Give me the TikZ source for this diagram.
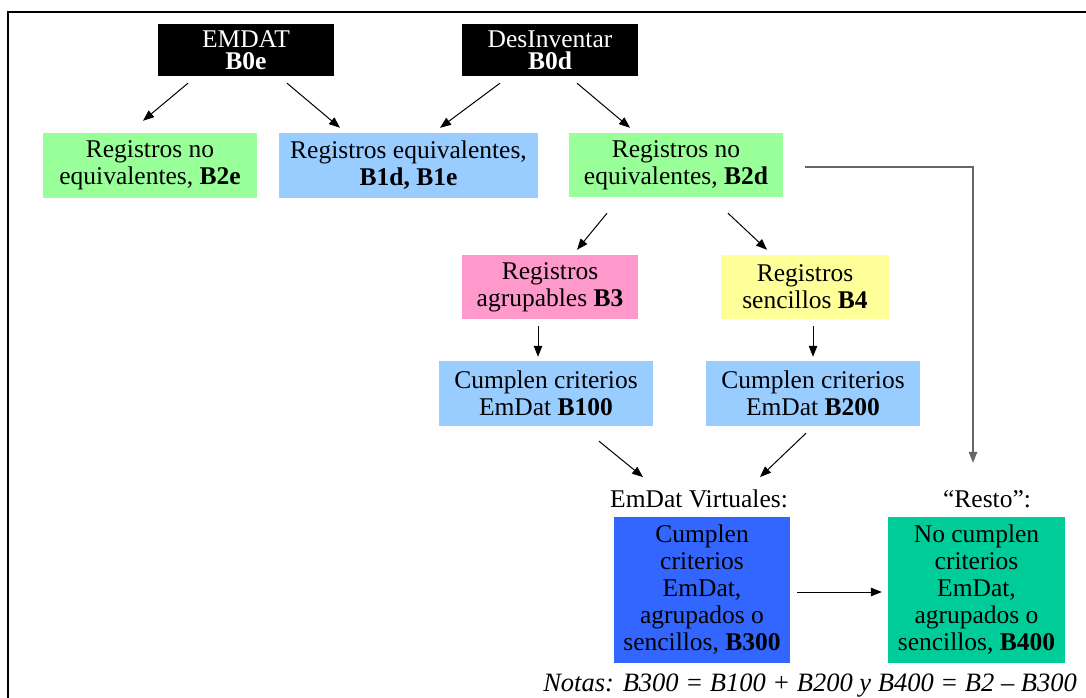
\documentclass[tikz,border=0pt]{standalone}
\usepackage{fontspec}
\setmainfont{Liberation Serif}
\usetikzlibrary{arrows.meta}
\definecolor{cgreen}{HTML}{99FF99}
\definecolor{cltblue}{HTML}{99CCFF}
\definecolor{cpink}{HTML}{FF99CC}
\definecolor{cyellow}{HTML}{FFFF99}
\definecolor{cblue}{HTML}{3366FF}
\definecolor{cteal}{HTML}{00CC99}
\definecolor{cgray}{HTML}{666666}
\begin{document}
\begin{tikzpicture}[x=1pt,y=-1pt,
  box/.style={inner sep=0pt, align=center, font=\fontsize{25.5}{27}\selectfont},
  blk/.style={box, fill=black, text=white, font=\fontsize{25.5}{22}\selectfont},
  lbl/.style={inner sep=0pt, font=\fontsize{25.5}{27}\selectfont},
  arr/.style={line width=1pt, -{Triangle[length=11pt,width=8.5pt]}},
  arrg/.style={line width=1.2pt, draw=cgray, -{Triangle[length=11pt,width=8.5pt,fill=cgray]}}]
\useasboundingbox (0,0) rectangle (1086,698);
\draw[line width=2pt] (7.5,698) -- (7.5,12.5) -- (1086,12.5);

\node[blk, minimum width=176pt, minimum height=52pt] (emdat) at (246,50) {EMDAT\\\textbf{B0e}};
\node[blk, minimum width=176pt, minimum height=52pt] (desinv) at (550,50) {DesInventar\\\textbf{B0d}};

\node[box, fill=cgreen, minimum width=214pt, minimum height=65pt] (b2e) at (150,165.5) {Registros no\\equivalentes, \textbf{B2e}};
\node[box, fill=cltblue, minimum width=259pt, minimum height=65pt] (b1) at (408.5,165.5) {Registros equivalentes,\\\textbf{B1d, B1e}};
\node[box, fill=cgreen, minimum width=214pt, minimum height=64pt] (b2d) at (676,165) {Registros no\\equivalentes, \textbf{B2d}};

\node[box, fill=cpink, minimum width=176pt, minimum height=64pt] (b3) at (550,287) {Registros\\agrupables \textbf{B3}};
\node[box, fill=cyellow, minimum width=168pt, minimum height=64pt] (b4) at (805,287) {Registros\\sencillos \textbf{B4}};

\node[box, fill=cltblue, minimum width=214pt, minimum height=65pt] (b100) at (546,393.5) {Cumplen criterios\\EmDat \textbf{B100}};
\node[box, fill=cltblue, minimum width=214pt, minimum height=65pt] (b200) at (813,393.5) {Cumplen criterios\\EmDat \textbf{B200}};

\node[lbl, anchor=base] (virt) at (699,507) {EmDat Virtuales:};
\node[lbl, anchor=base] (resto) at (987,507) {“Resto”:};

\node[box, fill=cblue, minimum width=176pt, minimum height=146pt] (b300) at (702,590) {Cumplen\\criterios\\EmDat,\\agrupados o\\sencillos, \textbf{B300}};
\node[box, fill=cteal, minimum width=177pt, minimum height=146pt] (b400) at (976.5,590) {No cumplen\\criterios\\EmDat,\\agrupados o\\sencillos, \textbf{B400}};

\node[lbl, anchor=base east, font=\itshape\fontsize{26.5}{27}\selectfont] (notas) at (1077,691) {Notas: B300 = B100 + B200 y B400 = B2 – B300};

\draw[arr] ([shift={(-58,7)}]emdat.south) -- ([shift={(-7,-12)}]b2e.north);
\draw[arr] ([shift={(41,7)}]emdat.south) -- ([shift={(-68.5,-5)}]b1.north);
\draw[arr] ([shift={(-50,7)}]desinv.south) -- ([shift={(31.5,-5)}]b1.north);
\draw[arr] ([shift={(27,7)}]desinv.south) -- ([shift={(-46,-5)}]b2d.north);
\draw[arr] ([shift={(-69,16)}]b2d.south) -- ([shift={(27,-5)}]b3.north);
\draw[arr] ([shift={(52,16)}]b2d.south) -- ([shift={(-38,-5)}]b4.north);
\draw[arr] ([shift={(-12,7)}]b3.south) -- ([shift={(-8,-4)}]b100.north);
\draw[arr] ([shift={(8,7)}]b4.south) -- ([shift={(0,-4)}]b200.north);
\draw[arr] ([shift={(53,15)}]b100.south) -- ([shift={(-56,-12)}]virt.north);
\draw[arr] ([shift={(-7,7)}]b200.south) -- ([shift={(61,-12)}]virt.north);
\draw[arrg] ([shift={(22,2)}]b2d.east) -| ([shift={(-14,-27)}]resto.north);
\draw[arr] ([shift={(7,2)}]b300.east) -- ([shift={(-6,2)}]b400.west);
\end{tikzpicture}
\end{document}
